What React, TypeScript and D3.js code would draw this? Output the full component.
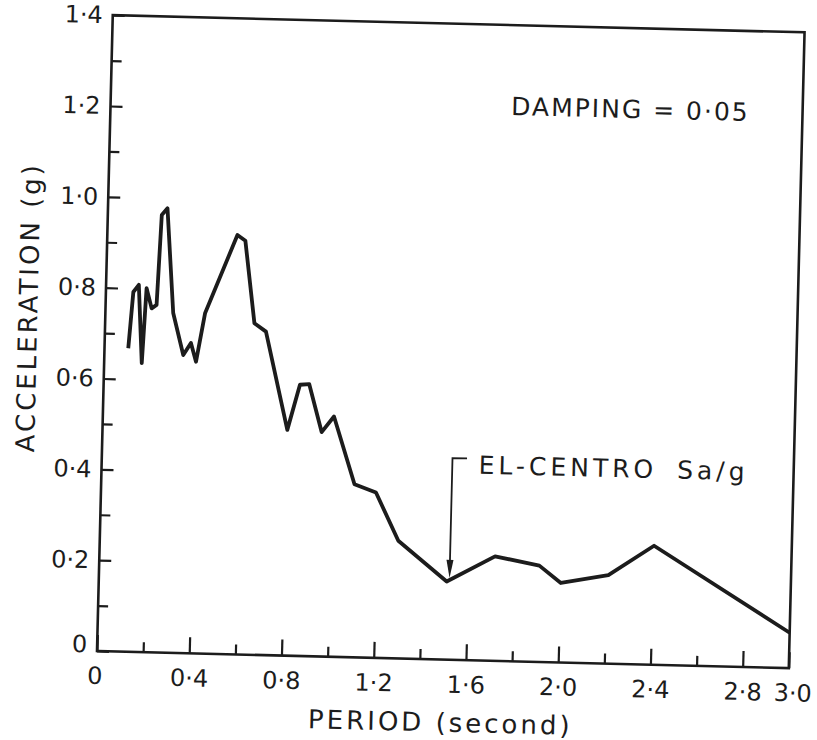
import React, { useEffect, useRef } from "react";
import * as d3 from "d3";

// El-Centro spectral acceleration, damping 0.05
const periods = [0.103, 0.119, 0.142, 0.163, 0.176, 0.2, 0.221, 0.234, 0.258, 0.294,
  0.342, 0.374, 0.398, 0.432, 0.564, 0.599, 0.647, 0.698, 0.801, 0.851,
  0.891, 0.95, 1.002, 1.098, 1.192, 1.294, 1.508, 1.715, 1.908, 2.003,
  2.208, 2.403, 3.0];
const accel = [0.668, 0.792, 0.808, 0.636, 0.801, 0.757, 0.765, 0.963, 0.978, 0.748,
  0.656, 0.683, 0.642, 0.749, 0.923, 0.911, 0.73, 0.712, 0.497, 0.597,
  0.599, 0.494, 0.529, 0.381, 0.364, 0.259, 0.172, 0.23, 0.212, 0.175,
  0.195, 0.262, 0.078];

const xLabelTicks = [0, 0.4, 0.8, 1.2, 1.6, 2.0, 2.4, 2.8, 3.0];
const xMinorTicks = [0.2, 0.6, 1.0, 1.4, 1.8, 2.2, 2.6];
const yLabelTicks = [0, 0.2, 0.4, 0.6, 0.8, 1.0, 1.2, 1.4];
const yMinorTicks = [0.1, 0.3, 0.5, 0.7, 0.9, 1.1, 1.3];

// annotation: arrow from label down to the curve
const arrowPeriod = 1.52;
const arrowTop = 0.444;
const arrowTip = 0.18;

const INK = "#1c1c1c";
const FONT = "DejaVu Sans";

const fmt = (d: number) => (d === 0 ? "0" : d.toFixed(1).replace(".", "\u00b7"));

export default function App() {
  const ref = useRef<SVGSVGElement | null>(null);

  useEffect(() => {
    const svg = d3.select(ref.current);
    svg.selectAll("*").remove();

    const width = 692;
    const height = 636;

    // the scanned figure is tilted a little, so the whole plot is rotated
    const chart = svg.append("g")
      .attr("transform", "translate(97, 651) rotate(1.42)");

    const x = d3.scaleLinear().domain([0, 3.0]).range([0, width]);
    const y = d3.scaleLinear().domain([0, 1.4]).range([0, -height]);

    // frame
    chart.append("rect")
      .attr("x", 0)
      .attr("y", -height)
      .attr("width", width)
      .attr("height", height)
      .attr("fill", "none")
      .attr("stroke", INK)
      .attr("stroke-width", 2.6);

    // y axis, ticks pointing inwards
    const yAxis = chart.append("g")
      .call(d3.axisLeft(y).tickValues(yLabelTicks).tickFormat(fmt as any)
        .tickSizeInner(-12).tickSizeOuter(0).tickPadding(10));
    chart.append("g")
      .call(d3.axisLeft(y).tickValues(yMinorTicks).tickFormat(() => "")
        .tickSizeInner(-10).tickSizeOuter(0));

    // x axis
    const xAxis = chart.append("g")
      .call(d3.axisBottom(x).tickValues(xLabelTicks).tickFormat(fmt as any)
        .tickSizeInner(-16).tickSizeOuter(0).tickPadding(16));
    chart.append("g")
      .call(d3.axisBottom(x).tickValues(xMinorTicks).tickFormat(() => "")
        .tickSizeInner(-10).tickSizeOuter(0));

    chart.selectAll(".domain").remove();
    chart.selectAll(".tick line")
      .attr("stroke", INK)
      .attr("stroke-width", 2.2);
    chart.selectAll(".tick text")
      .attr("fill", INK)
      .attr("font-family", FONT)
      .attr("font-size", 24);
    // the y "0" sits a little above the corner
    yAxis.selectAll(".tick text").filter((d: any) => d === 0).attr("dy", "0.05em");
    xAxis.selectAll(".tick text").filter((d: any) => d === 3.0).attr("dx", 4);
    xAxis.selectAll(".tick text").filter((d: any) => d === 0).attr("dx", -2);

    // axis titles
    chart.append("text")
      .attr("transform", "translate(-68, " + (-342) + ") rotate(-90)")
      .attr("text-anchor", "middle")
      .attr("font-family", FONT)
      .attr("font-size", 26)
      .attr("letter-spacing", 3)
      .attr("fill", INK)
      .text("ACCELERATION (g)");

    chart.append("text")
      .attr("x", 345)
      .attr("y", 72)
      .attr("text-anchor", "middle")
      .attr("font-family", FONT)
      .attr("font-size", 26)
      .attr("letter-spacing", 3)
      .attr("fill", INK)
      .text("PERIOD (second)");

    chart.append("text")
      .attr("x", x(2.254))
      .attr("y", y(1.202))
      .attr("text-anchor", "middle")
      .attr("font-family", FONT)
      .attr("font-size", 25)
      .attr("letter-spacing", 2)
      .attr("fill", INK)
      .text("DAMPING = 0\u00b705");

    // spectrum curve
    const line = d3.line<number>()
      .x((d, i) => x(periods[i]))
      .y(d => y(d));

    chart.append("path")
      .datum(accel)
      .attr("d", line)
      .attr("fill", "none")
      .attr("stroke", INK)
      .attr("stroke-width", 3.8)
      .attr("stroke-linejoin", "round");

    // leader + arrow
    chart.append("path")
      .attr("d", `M${x(1.583)},${y(arrowTop)} H${x(arrowPeriod)} V${y(arrowTip) - 14}`)
      .attr("fill", "none")
      .attr("stroke", INK)
      .attr("stroke-width", 1.8);
    chart.append("path")
      .attr("d", `M${x(arrowPeriod) - 3.5},${y(arrowTip) - 18} L${x(arrowPeriod) + 3.5},${y(arrowTip) - 18} L${x(arrowPeriod)},${y(arrowTip)} Z`)
      .attr("fill", INK);

    chart.append("text")
      .attr("x", x(1.634))
      .attr("y", y(0.411))
      .attr("font-family", FONT)
      .attr("font-size", 25)
      .attr("letter-spacing", 4)
      .attr("word-spacing", 8)
      .attr("fill", INK)
      .text("EL-CENTRO Sa/g");
  }, []);

  return (
    <svg
      ref={ref}
      width={817}
      height={740}
      style={{ position: "absolute", left: 0, top: 0, background: "#fff" }}
    />
  );
}
